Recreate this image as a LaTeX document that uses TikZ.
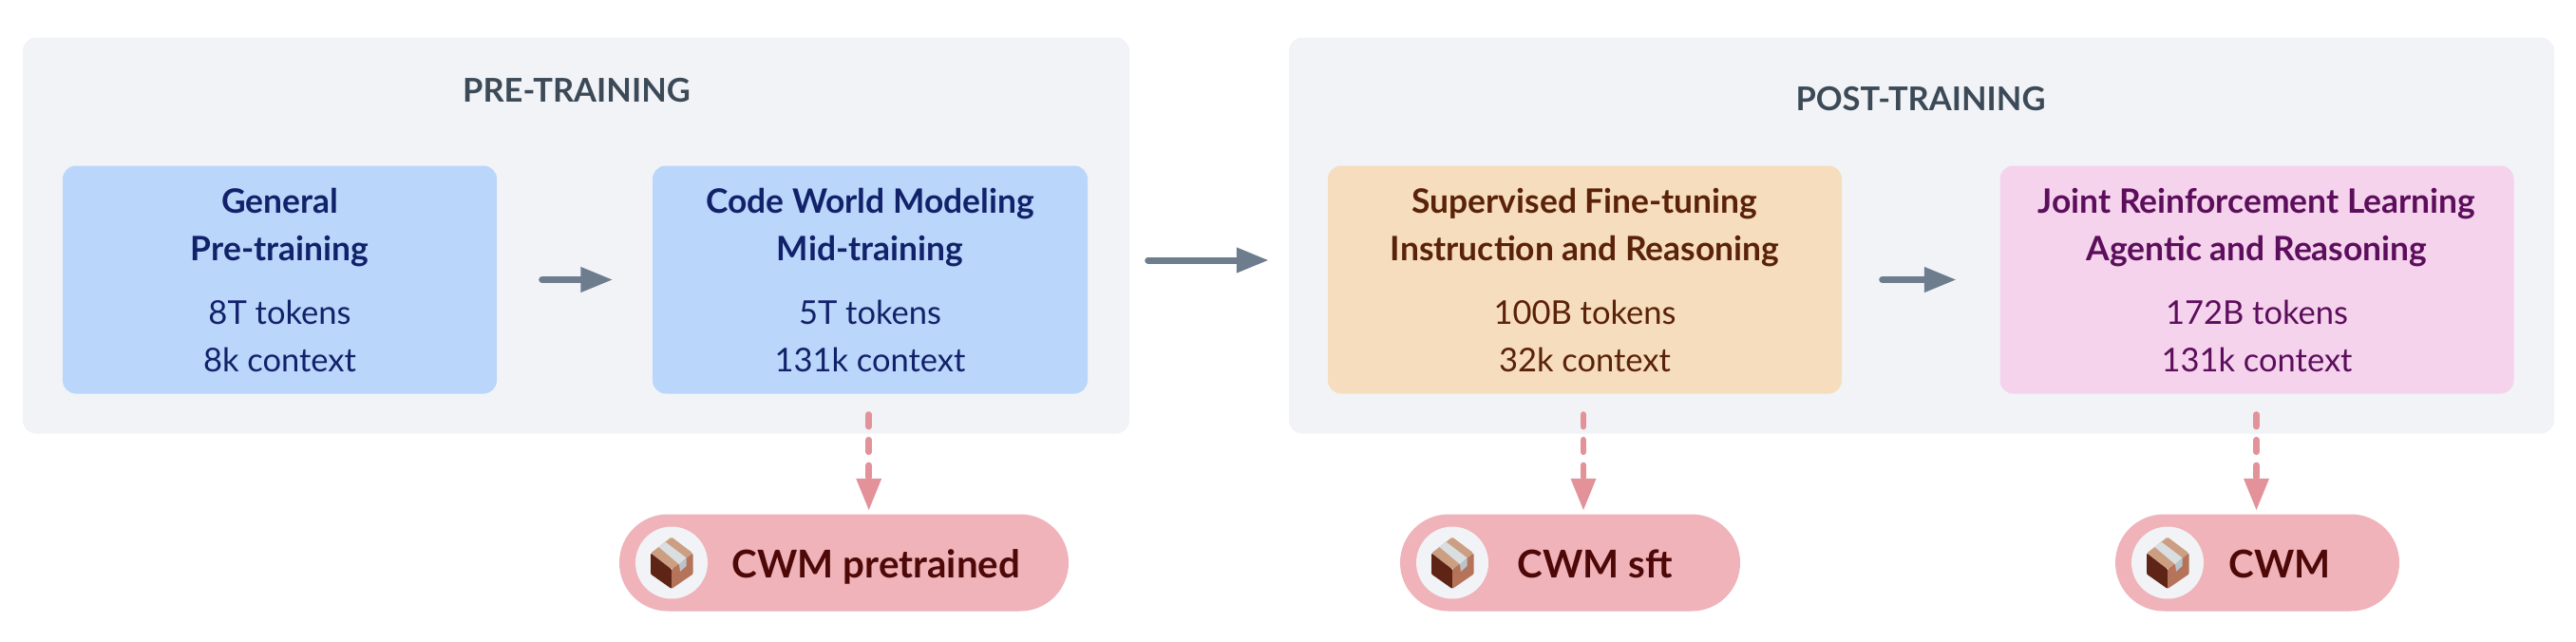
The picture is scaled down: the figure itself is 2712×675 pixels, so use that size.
\documentclass[tikz,border=0pt]{standalone}
\usepackage{fontspec}
\setmainfont{Lato}
\usetikzlibrary{arrows.meta}
\definecolor{groupbg}{HTML}{F1F3F7}
\definecolor{bluebg}{HTML}{BAD6FB}
\definecolor{bluetx}{HTML}{12226A}
\definecolor{orangebg}{HTML}{F6DDBD}
\definecolor{orangetx}{HTML}{5A2208}
\definecolor{pinkbg}{HTML}{F5D3EC}
\definecolor{pinktx}{HTML}{5C0E5C}
\definecolor{pillbg}{HTML}{EFB3B9}
\definecolor{pilltx}{HTML}{4E0808}
\definecolor{titletx}{HTML}{3C4A57}
\definecolor{flowcol}{HTML}{6E7D8E}
\definecolor{dashcol}{HTML}{E39299}
\definecolor{boxtop}{HTML}{CC9F82}
\definecolor{boxleft}{HTML}{5E2516}
\definecolor{boxright}{HTML}{B5745A}
\definecolor{tapetop}{HTML}{D9DEE1}
\definecolor{tapeside}{HTML}{B8C4CC}
\newcommand{\stagehead}[1]{{\fontsize{35.4}{50}\selectfont\bfseries #1}}
\newcommand{\stagetext}[4]{%
  \rule{0pt}{30pt}\stagehead{#1}\\\stagehead{#2}\\[17pt]#3\\\rule[-4pt]{0pt}{4pt}#4}
\tikzset{
  x=1pt,y=-1pt,
  groupbox/.style={fill=groupbg,rounded corners=14pt,minimum width=#1,minimum height=417pt,inner sep=0pt},
  stagebox/.style={rounded corners=14pt,minimum width=#1,minimum height=240pt,inner sep=0pt,align=center,font=\fontsize{34.5}{50}\selectfont},
  grouptitle/.style={font=\fontsize{34.5}{40}\selectfont\bfseries,text=titletx,inner sep=0pt,anchor=center},
  pillbox/.style={fill=pillbg,rounded corners=51pt,minimum width=#1,minimum height=102pt,inner sep=0pt},
  iconbg/.style={circle,fill=groupbg,minimum size=76pt,inner sep=0pt},
  pilltext/.style={font=\fontsize{40.3}{48}\selectfont\bfseries,text=pilltx,inner sep=0pt,anchor=base},
  flow/.style={draw=flowcol,line width=7pt,line cap=round,-{Triangle[length=34pt,width=25pt]}},
  release/.style={draw=dashcol,line width=6.6pt,line cap=round,dash pattern=on 12.6pt off 14.1pt,-{Triangle[length=34pt,width=25pt]}},
  pics/parcel/.style={code={
    \fill[boxtop,rounded corners=1.5pt] (0,-27)--(22.5,-10)--(0,7)--(-22,-10)--cycle;
    \fill[boxleft,rounded corners=1pt] (-22,-10)--(0,7)--(0,27.5)--(-22,12)--cycle;
    \fill[boxright,rounded corners=1pt] (22.5,-10)--(0,7)--(0,27.5)--(22.5,12)--cycle;
    \fill[tapetop] (-13.7,-16.7)--(-6.3,-21.7)--(15.7,-5)--(8,1.7)--cycle;
    \fill[tapeside] (8,1.7)--(15.7,-5)--(15.7,3.3)--(9,9.3)--cycle;
  }},
}
\begin{document}
\begin{tikzpicture}
\useasboundingbox (0,0) rectangle (2712,675);
% groups
\node[groupbox=1165pt] (g1) at (606.5,248) {};
\node[groupbox=1332pt] (g2) at (2023,248) {};
\node[grouptitle] (t1) at (607,95) {PRE-TRAINING};
\node[grouptitle] (t2) at (2022,104) {POST-TRAINING};
% stages
\node[stagebox=457pt,fill=bluebg,text=bluetx] (b1) at (294.5,294.5)
  {\stagetext{General}{Pre-training}{8T tokens}{8k context}};
\node[stagebox=458pt,fill=bluebg,text=bluetx] (b2) at (916,294.5)
  {\stagetext{Code World Modeling}{Mid-training}{5T tokens}{131k context}};
\node[stagebox=541pt,fill=orangebg,text=orangetx] (b3) at (1668.5,294.5)
  {\stagetext{Supervised Fine-tuning}{Instruction and Reasoning}{100B tokens}{32k context}};
\node[stagebox=541pt,fill=pinkbg,text=pinktx] (b4) at (2376,294.5)
  {\stagetext{Joint Reinforcement Learning}{Agentic and Reasoning}{172B tokens}{131k context}};
% pills
\node[pillbox=473pt] (p1) at (888.5,592.5) {};
\node[pillbox=358pt] (p2) at (1653,592.5) {};
\node[pillbox=299pt] (p3) at (2376.5,592.5) {};
\node[iconbg] (c1) at (707,592.5) {};
\node[iconbg] (c2) at (1529,592.5) {};
\node[iconbg] (c3) at (2282,592.5) {};
\pic at (c1) {parcel};
\pic at (c2) {parcel};
\pic at (c3) {parcel};
\node[pilltext] (n1) at (922.5,608.5) {CWM pretrained};
\node[pilltext] (n2) at (1679,608.5) {CWM sft};
\node[pilltext] (n3) at (2400,608.5) {CWM};
% flow arrows
\draw[flow,shorten <=47.5pt,shorten >=41.5pt] (b1) -- (b2);
\draw[flow,shorten <=42.5pt,shorten >=45.5pt] (b3) -- (b4);
\draw[flow,shorten <=19.5pt,shorten >=21pt] ([yshift=-26pt]g1.east) -- ([yshift=-26pt]g2.west);
% release arrows
\coordinate (d1) at (914.7,436.5);
\coordinate (d2) at (1667,436.5);
\coordinate (d3) at (2375.5,436.5);
\draw[release,shorten >=3.5pt] (d1) -- (d1 |- p1.north);
\draw[release,shorten >=3.5pt] (d2) -- (d2 |- p2.north);
\draw[release,shorten >=3.5pt] (d3) -- (d3 |- p3.north);
\end{tikzpicture}
\end{document}
